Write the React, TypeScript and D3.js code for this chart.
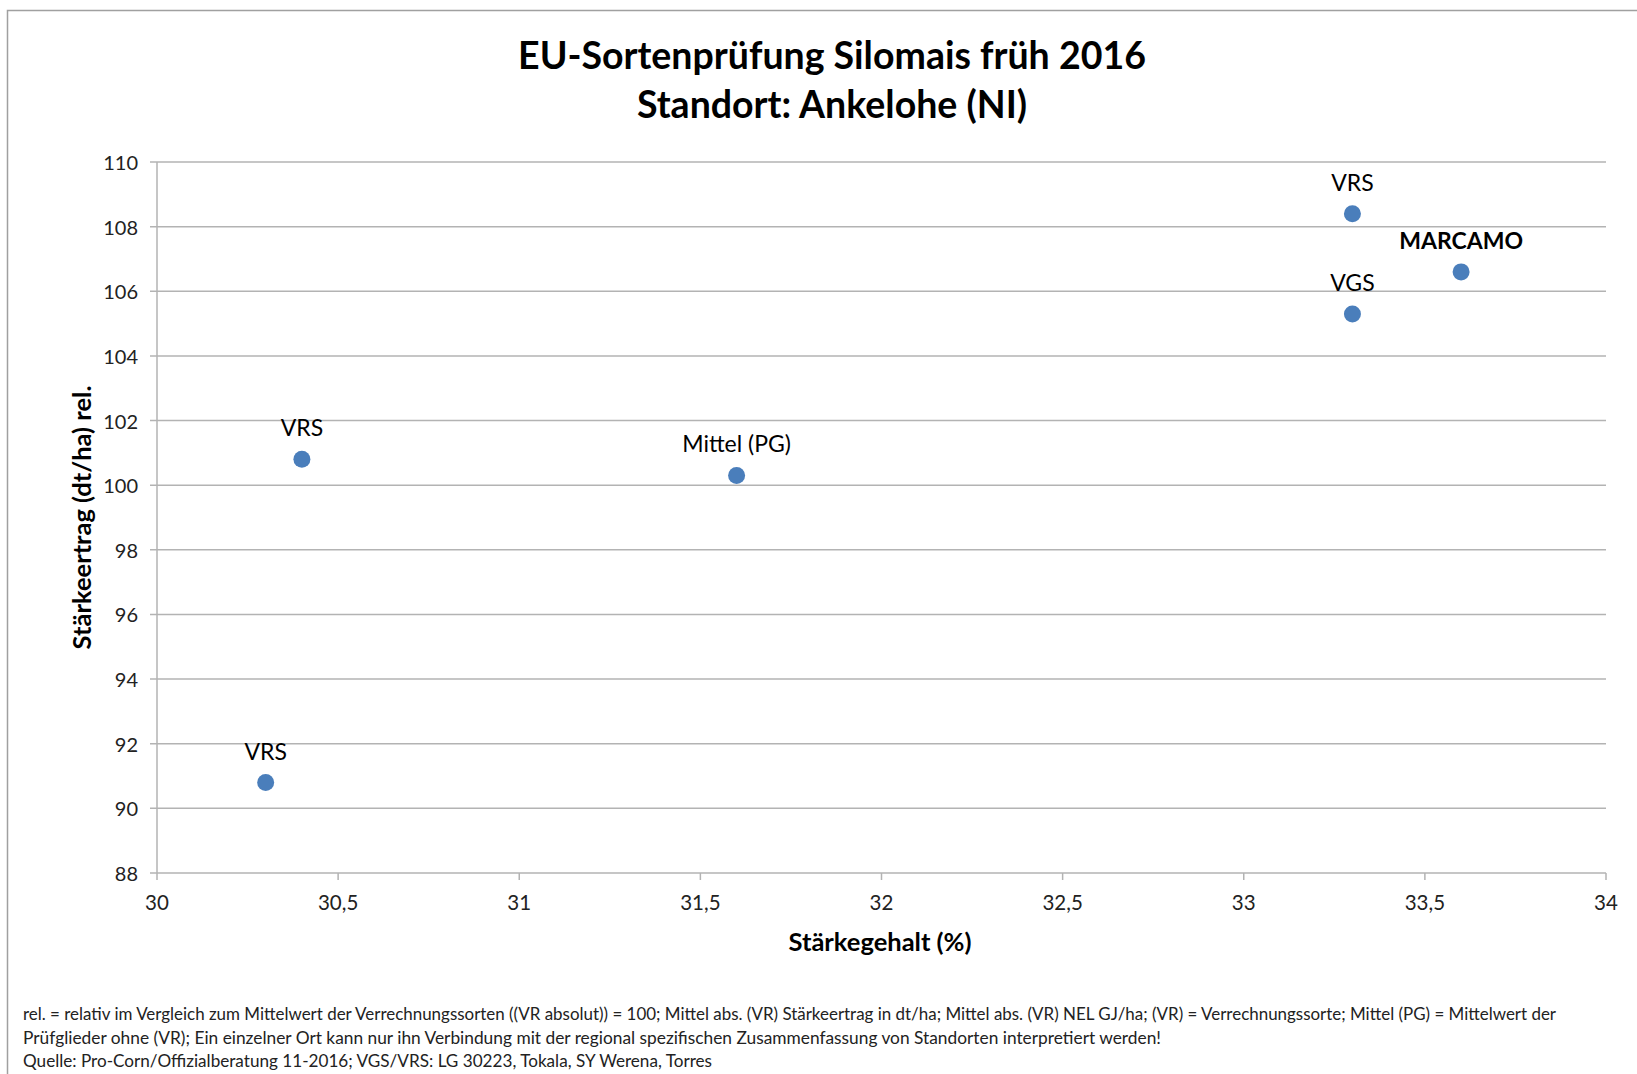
import * as d3 from 'd3'

const xTicks = [30, 30.5, 31, 31.5, 32, 32.5, 33, 33.5, 34]
const yTicks = [88, 90, 92, 94, 96, 98, 100, 102, 104, 106, 108, 110]

const pointLabels = ['VRS', 'VRS', 'Mittel (PG)', 'VRS', 'VGS', 'MARCAMO']
const starchContent = [30.3, 30.4, 31.6, 33.3, 33.3, 33.6]
const starchYield = [90.8, 100.8, 100.3, 108.4, 105.3, 106.6]
const boldLabels = ['MARCAMO']

const titleLines = ['EU-Sortenprüfung Silomais früh 2016', 'Standort: Ankelohe (NI)']
const footLines = [
  'rel. = relativ im Vergleich zum Mittelwert der Verrechnungssorten ((VR absolut)) = 100; Mittel abs. (VR) Stärkeertrag in dt/ha; Mittel abs. (VR) NEL GJ/ha;  (VR) = Verrechnungssorte; Mittel (PG) = Mittelwert der',
  'Prüfglieder ohne (VR); Ein einzelner Ort kann nur ihn Verbindung mit der regional spezifischen Zusammenfassung von Standorten interpretiert werden!',
  'Quelle: Pro-Corn/Offizialberatung 11-2016; VGS/VRS: LG 30223, Tokala, SY Werena, Torres',
]
const footWidths = [1533, 1138, 689]

const W = 1637
const H = 1074
const font = 'Lato, "Open Sans", sans-serif'

export default function App() {
  const x = d3.scaleLinear().domain([30, 34]).range([157, 1606])
  const y = d3.scaleLinear().domain([88, 110]).range([873, 162])
  const fmt = (v: number) => String(v).replace('.', ',')
  const grid = '#b3b3b3'

  return (
    <svg width={W} height={H} style={{ position: 'absolute', left: 0, top: 0, display: 'block', background: '#fff' }} fontFamily={font}>
      <rect x={7.5} y={10.5} width={W} height={H} fill="#fff" stroke="#a0a0a0" strokeWidth={1.5} />

      {titleLines.map((t, i) => (
        <text key={t} x={832} y={54 + i * 49} textAnchor="middle" dominantBaseline="central" fontSize={37.5} fontWeight="bold" fill="#000">
          {t}
        </text>
      ))}

      {yTicks.map((t) => (
        <g key={t}>
          <line x1={x(30) - 7} x2={x(34)} y1={y(t)} y2={y(t)} stroke={grid} strokeWidth={1.5} />
          <text x={138} y={y(t)} textAnchor="end" dominantBaseline="central" fontSize={20} fill="#222">
            {t}
          </text>
        </g>
      ))}
      <line x1={x(30)} x2={x(30)} y1={y(110)} y2={y(88)} stroke={grid} strokeWidth={1.5} />

      {xTicks.map((t) => (
        <g key={t}>
          <line x1={x(t)} x2={x(t)} y1={y(88)} y2={y(88) + 7} stroke={grid} strokeWidth={1.5} />
          <text x={x(t)} y={902} textAnchor="middle" dominantBaseline="central" fontSize={20.5} fill="#222">
            {fmt(t)}
          </text>
        </g>
      ))}

      <text x={880} y={941} textAnchor="middle" dominantBaseline="central" fontSize={25.5} fontWeight="bold" fill="#000">
        Stärkegehalt (%)
      </text>
      <text
        transform={`translate(81, ${(y(110) + y(88)) / 2}) rotate(-90)`}
        textAnchor="middle"
        dominantBaseline="central"
        fontSize={25.5}
        fontWeight="bold"
        fill="#000"
      >
        Stärkeertrag (dt/ha) rel.
      </text>

      {starchContent.map((v, i) => (
        <g key={i}>
          <circle cx={x(v)} cy={y(starchYield[i])} r={8.5} fill="#4a7ebb" />
          <text
            x={x(v)}
            y={y(starchYield[i]) - 32}
            textAnchor="middle"
            dominantBaseline="central"
            fontSize={23}
            fontWeight={boldLabels.includes(pointLabels[i]) ? 'bold' : 'normal'}
            fill="#000"
          >
            {pointLabels[i]}
          </text>
        </g>
      ))}

      {footLines.map((t, i) => (
        <text
          key={i}
          x={23}
          y={1014 + i * 23.5}
          dominantBaseline="central"
          fontSize={16.5}
          fill="#222"
          textLength={footWidths[i]}
          lengthAdjust="spacingAndGlyphs"
        >
          {t}
        </text>
      ))}
    </svg>
  )
}
